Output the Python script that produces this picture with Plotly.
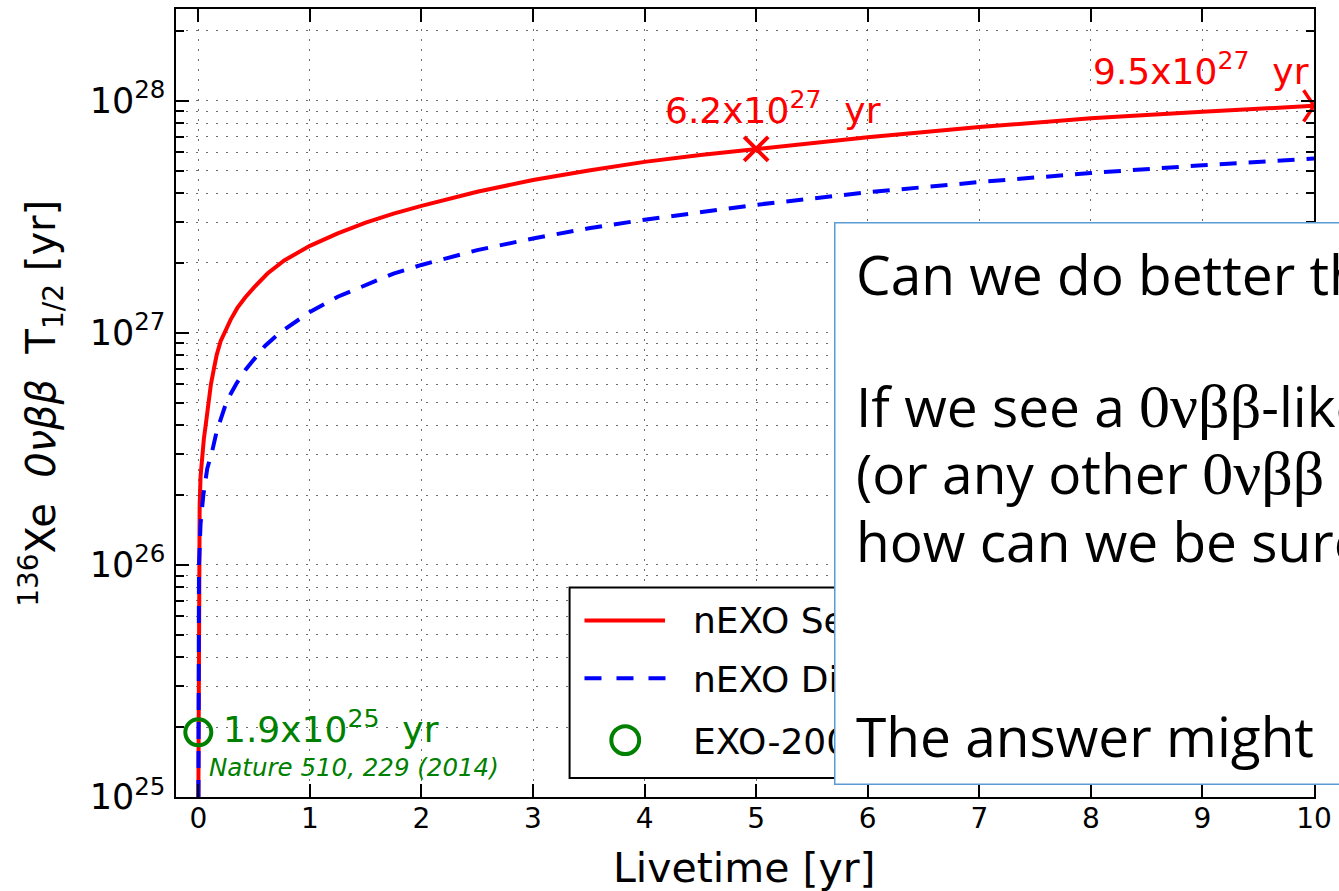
import plotly.graph_objects as go

# ---------------- data ----------------
# nEXO 90% CL sensitivity vs. livetime
sens_livetime = [0.0006, 0.003, 0.006, 0.012, 0.02, 0.036, 0.05, 0.066, 0.089, 0.113, 0.14, 0.164, 0.2,
                 0.232, 0.29, 0.35, 0.42, 0.5, 0.62, 0.77, 0.88, 1.0, 1.25, 1.5, 1.75, 2.0, 2.5, 3.0,
                 3.5, 4.0, 4.5, 5.0, 6.0, 7.0, 8.0, 9.0, 10.0]
sens_halflife = [1.0e25, 5.0e25, 1.0e26, 1.8e26, 2.4e26, 3.1e26, 3.5e26, 4.0e26, 5.0e26, 6.0e26, 7.0e26,
                 8.0e26, 9.2e26, 1.0e27, 1.14e27, 1.28e27, 1.42e27, 1.57e27, 1.8e27, 2.05e27, 2.2e27,
                 2.37e27, 2.68e27, 2.98e27, 3.26e27, 3.52e27, 4.05e27, 4.55e27, 5.0e27, 5.45e27,
                 5.83e27, 6.2e27, 6.95e27, 7.7e27, 8.4e27, 8.97e27, 9.5e27]

# nEXO 3 sigma discovery potential vs. livetime
disc_livetime = [0.001, 0.003, 0.006, 0.02, 0.045, 0.08, 0.125, 0.164, 0.2, 0.238, 0.29, 0.342, 0.42,
                 0.505, 0.6, 0.73, 0.86, 1.0, 1.25, 1.5, 1.75, 2.0, 2.5, 3.0, 3.5, 4.0, 5.0, 6.0,
                 7.0, 8.0, 9.0, 10.0]
disc_halflife = [1.0e25, 4.0e25, 1.0e26, 1.5e26, 2.0e26, 2.6e26, 3.1e26, 3.75e26, 4.3e26, 4.8e26,
                 5.45e26, 6.05e26, 6.9e26, 7.8e26, 8.8e26, 1.0e27, 1.11e27, 1.23e27, 1.43e27, 1.61e27,
                 1.8e27, 1.96e27, 2.27e27, 2.55e27, 2.82e27, 3.07e27, 3.56e27, 4.03e27, 4.46e27,
                 4.88e27, 5.27e27, 5.63e27]

# EXO-200 published limit
exo200_livetime = [0.0]
exo200_halflife = [1.9e25]

# highlighted points on the sensitivity curve
mark_livetime = 5.0
mark_halflife = 6.2e27
end_livetime = 10.0
end_halflife = 9.5e27

x_ticks = list(range(0, 11))
legend_labels = ["nEXO Sensitivity", "nEXO Discovery", "EXO-200"]

SERIF = "<span style='font-family:Liberation Serif;font-size:62px'>0νββ</span>"
note_lines = [
    "Can we do better than",
    "If we see a " + SERIF + "-like",
    "(or any other " + SERIF,
    "how can we be sure",
    "The answer might",
]

# ---------------- layout geometry ----------------
W, H = 1339, 891
ML, MR, MT, MB = 176, 18, 7, 94
PW, PH = W - ML - MR, H - MT - MB


def fx(xpix):
    return (xpix - ML) / PW


def fy(ypix):
    return (H - MB - ypix) / PH


RED, BLUE, GREEN = "#ff0000", "#0000ff", "#008000"
FONT = "DejaVu Sans"
GRID = "rgba(60,60,60,0.75)"

fig = go.Figure()

fig.add_trace(go.Scatter(x=sens_livetime, y=sens_halflife, mode="lines",
                         line=dict(color=RED, width=4), name=legend_labels[0]))
fig.add_trace(go.Scatter(x=disc_livetime, y=disc_halflife, mode="lines",
                         line=dict(color=BLUE, width=4, dash="17px,12px"), name=legend_labels[1]))
fig.add_trace(go.Scatter(x=[mark_livetime], y=[mark_halflife], mode="markers",
                         marker=dict(symbol="x-thin", size=24, line=dict(color=RED, width=4)),
                         showlegend=False))
# arrow tip at the end of the sensitivity curve (the stem is clipped by the plot edge)
fig.add_trace(go.Scatter(x=[end_livetime], y=[end_halflife], mode="markers", cliponaxis=True,
                         marker=dict(symbol="y-right", size=26, line=dict(color=RED, width=3.5)),
                         showlegend=False))
fig.add_trace(go.Scatter(x=exo200_livetime, y=exo200_halflife, mode="markers", cliponaxis=False,
                         marker=dict(symbol="circle-open", size=26, color=GREEN, line=dict(color=GREEN, width=4)),
                         name=legend_labels[2]))

axis_common = dict(
    showline=True, linewidth=2, linecolor="black", mirror="ticks",
    ticks="inside", ticklen=13, tickwidth=1.5, tickcolor="black",
    showgrid=True, gridcolor=GRID, gridwidth=1, griddash="2px,8px",
    zeroline=False, tickfont=dict(family=FONT, size=28, color="black"),
)

fig.update_xaxes(range=[-0.2, 10], tickmode="array", tickvals=x_ticks, ticklabelstandoff=-5, **axis_common)
fig.update_yaxes(type="log", range=[25, 28.395], dtick=1, exponentformat="power", ticklabelstandoff=3,
                 minor=dict(dtick="D1", ticks="inside", ticklen=8, tickwidth=1.5, tickcolor="black",
                            showgrid=True, gridcolor=GRID, gridwidth=1, griddash="2px,8px"),
                 **axis_common)

annotations = []

# value labels
annotations.append(dict(text="6.2x10<sup>27</sup>\u00a0 yr", x=fx(666), y=fy(106), xref="paper", yref="paper",
                        xanchor="left", yanchor="middle", showarrow=False,
                        font=dict(family=FONT, size=36, color=RED)))
annotations.append(dict(text="9.5x10<sup>27</sup>\u00a0 yr", x=fx(1097), y=fy(67), xref="paper", yref="paper",
                        xanchor="left", yanchor="middle", showarrow=False,
                        font=dict(family=FONT, size=36, color=RED)))
annotations.append(dict(text="1.9x10<sup>25</sup>\u00a0 yr", x=fx(221), y=fy(727), xref="paper", yref="paper",
                        xanchor="left", yanchor="middle", showarrow=False,
                        font=dict(family=FONT, size=36, color=GREEN)))
annotations.append(dict(text="<i>Nature 510, 229 (2014)</i>", x=fx(207), y=fy(767), xref="paper", yref="paper",
                        xanchor="left", yanchor="middle", showarrow=False,
                        font=dict(family=FONT, size=24.5, color=GREEN)))

# axis titles
annotations.append(dict(text="<sup>136</sup>Xe\u00a0\u00a0<i>0νββ</i>\u00a0\u00a0T<sub>1/2</sub> [yr]",
                        textangle=-90, x=fx(40), y=fy(402), xref="paper", yref="paper",
                        xanchor="center", yanchor="middle", showarrow=False,
                        font=dict(family=FONT, size=40, color="black")))
annotations.append(dict(text="Livetime [yr]", x=fx(748), y=fy(868), xref="paper", yref="paper",
                        xanchor="center", yanchor="middle", showarrow=False,
                        font=dict(family=FONT, size=41, color="black")))

# legend entries
legend_rows = [620, 679, 741]
for label, yrow in zip(legend_labels, legend_rows):
    annotations.append(dict(text=label, x=fx(694), y=fy(yrow), xref="paper", yref="paper",
                            xanchor="left", yanchor="middle", showarrow=False,
                            font=dict(family=FONT, size=36, color="black")))

# note box drawn over the right part of the chart
annotations.append(dict(text=" ", x=fx(838), y=fy(221), xref="paper", yref="paper",
                        xanchor="left", yanchor="top", showarrow=False,
                        width=720, height=560, bgcolor="white", bordercolor="#5b9bd5",
                        borderwidth=1.5, borderpad=0))
note_rows = [272, 405, 472, 540, 735]
for line, yrow in zip(note_lines, note_rows):
    annotations.append(dict(text=line, x=fx(858), y=fy(yrow), xref="paper", yref="paper",
                            xanchor="left", yanchor="middle", showarrow=False,
                            font=dict(family="Open Sans", size=55, color="black")))

shapes = [
    # legend frame
    dict(type="rect", xref="paper", yref="paper", x0=fx(572), x1=fx(1000), y0=fy(778), y1=fy(587),
         line=dict(color="black", width=2), fillcolor="white", layer="above"),
    dict(type="line", xref="paper", yref="paper", x0=fx(587), x1=fx(668), y0=fy(620), y1=fy(620),
         line=dict(color=RED, width=4), layer="above"),
    dict(type="line", xref="paper", yref="paper", x0=fx(587), x1=fx(670), y0=fy(678), y1=fy(678),
         line=dict(color=BLUE, width=4, dash="17px,15px"), layer="above"),
    dict(type="circle", xref="paper", yref="paper", x0=fx(614), x1=fx(642), y0=fy(754), y1=fy(726),
         line=dict(color=GREEN, width=4), layer="above"),
]

fig.update_layout(
    width=W, height=H,
    margin=dict(l=ML, r=MR, t=MT, b=MB, pad=0),
    paper_bgcolor="white", plot_bgcolor="white",
    showlegend=False,
    annotations=annotations,
    shapes=shapes,
    font=dict(family=FONT, color="black"),
)

fig.write_html("out.html")
